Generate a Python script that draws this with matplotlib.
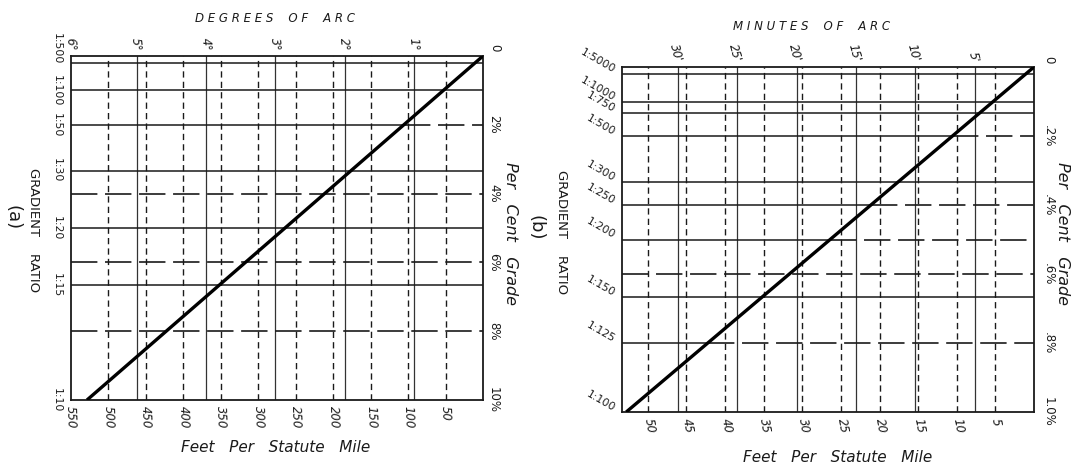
import numpy as np
import matplotlib
matplotlib.use("Agg")
import matplotlib.pyplot as plt

plt.rcParams['font.family'] = ['DejaVu Sans']
plt.rcParams['lines.scale_dashes'] = False

INK = '#1a1a1a'
GRID = '#333333'
W, H = 1078, 470
PT = 0.72  # points per pixel at 100 dpi

# Panel (a): grades up to 10 %, degrees of arc
a_ft_labels = ['550', '500', '450', '400', '350', '300', '250', '200', '150', '100', '50']
a_ft_values = [550, 500, 450, 400, 350, 300, 250, 200, 150, 100, 50]
a_arc_labels = ['6°', '5°', '4°', '3°', '2°', '1°']
a_arc_ft = [550, 462, 369, 277, 184, 92]
a_ratio_labels = ['1:500', '1:100', '1:50', '1:30', '1:20', '1:15', '1:10']
a_ratio_grade = [0.2, 1.0, 2.0, 3.33, 5.0, 6.67, 10.0]
a_pct_labels = ['0', '2%', '4%', '6%', '8%', '10%']
a_pct_grade = [0, 2, 4, 6, 8, 10]
a_pct_dashed = [2, 4, 6, 8]
a_line_ft = [0, 528]
a_line_grade = [0, 10]

# Panel (b): grades up to 1 %, minutes of arc
b_ft_labels = ['50', '45', '40', '35', '30', '25', '20', '15', '10', '5']
b_ft_values = [50, 45, 40, 35, 30, 25, 20, 15, 10, 5]
b_arc_labels = ["30'", "25'", "20'", "15'", "10'", "5'"]
b_arc_ft = [46.1, 38.4, 30.7, 23.0, 15.4, 7.7]
b_ratio_labels = ['1:5000', '1:1000', '1:750', '1:500', '1:300', '1:250',
                  '1:200', '1:150', '1:125', '1:100']
b_ratio_grade = [0.02, 0.1, 0.133, 0.2, 0.333, 0.4, 0.5, 0.667, 0.8, 1.0]
b_pct_labels = ['0', '.2%', '.4%', '.6%', '.8%', '1.0%']
b_pct_grade = [0, 0.2, 0.4, 0.6, 0.8, 1.0]
b_pct_dashed = [0.2, 0.4, 0.5, 0.6, 0.8]
b_line_ft = [0, 52.8]
b_line_grade = [0, 1.0]

fig = plt.figure(figsize=(W / 100, H / 100), dpi=100)
fig.patch.set_facecolor('white')


def px_rect(left, top, right, bottom):
    return [left / W, 1 - bottom / H, (right - left) / W, (bottom - top) / H]


def ftext(x, y, s, **kw):
    kw.setdefault('color', INK)
    fig.text(x / W, 1 - y / H, s, **kw)


def draw_panel(rect, ft_max, grade_max, ft_values, arc_ft, ratio_grade,
               pct_dashed, line_ft, line_grade):
    ax = fig.add_axes(rect)
    ax.set_xlim(ft_max, 0)
    ax.set_ylim(grade_max, 0)
    ax.set_xticks([])
    ax.set_yticks([])
    for s in ax.spines.values():
        s.set_linewidth(1.3)
        s.set_color(INK)

    def cross(g):
        return float(np.interp(g, line_grade, line_ft))

    def shared(g, others):
        return any(np.isclose(g, o) for o in others)

    # solid verticals: angle of arc
    for x in arc_ft:
        if x < ft_max:
            ax.axvline(x, color=GRID, lw=0.9)
    # dashed verticals: feet per mile
    for x in ft_values:
        if x < ft_max:
            ax.axvline(x, color=INK, lw=1.0, dashes=(4.5, 3.0))
    # solid horizontals: gradient ratio (stop at the diagonal where a
    # per-cent line continues on the same level)
    for g in ratio_grade:
        if g >= grade_max:
            continue
        x_end = cross(g) if shared(g, pct_dashed) else 0
        ax.plot([ft_max, x_end], [g, g], color=INK, lw=1.1,
                solid_capstyle='butt')
    # dashed horizontals: per cent grade
    for p in pct_dashed:
        x_start = cross(p) if shared(p, ratio_grade) else ft_max
        ax.plot([x_start, 0], [p, p], color=INK, lw=1.2, dashes=(19, 5.5))
    # the conversion line
    ax.plot(line_ft, line_grade, color='black', lw=2.4,
            solid_capstyle='butt', zorder=5)
    ax.set_xlim(ft_max, 0)
    ax.set_ylim(grade_max, 0)
    return ax


def label_panel(ax, ft_labels, ft_values, ft_rot, arc_labels, arc_ft, arc_rot,
                ratio_labels, ratio_grade, ratio_rot, ratio_off,
                pct_labels, pct_grade, pct_off, zero_off, ft_max, grade_max):
    tick_kw = dict(fontsize=8.5, color=INK, rotation_mode='anchor',
                   annotation_clip=False, textcoords='offset points')
    for lab, v in zip(ft_labels, ft_values):
        ax.annotate(lab, xy=(v, 0), xycoords=('data', 'axes fraction'),
                    xytext=(0, -6 * PT), rotation=ft_rot, ha='left',
                    va='center', style='italic', **tick_kw)
    for lab, v in zip(arc_labels, arc_ft):
        ax.annotate(lab, xy=(min(v, ft_max), 1),
                    xycoords=('data', 'axes fraction'),
                    xytext=(0, 5 * PT), rotation=arc_rot, ha='right',
                    va='center', style='italic', **tick_kw)
    ratio_kw = dict(tick_kw, fontsize=7.8)
    for lab, g in zip(ratio_labels, ratio_grade):
        if ratio_rot == -90:
            # the label nearest the top edge sits above its line
            near_top = g < 0.05 * grade_max
            ax.annotate(lab, xy=(0, g), xycoords=('axes fraction', 'data'),
                        xytext=(-ratio_off * PT, -1 * PT if near_top else 0),
                        rotation=-90, ha='right' if near_top else 'center',
                        va='top', **ratio_kw)
        else:
            ax.annotate(lab, xy=(0, g), xycoords=('axes fraction', 'data'),
                        xytext=(-ratio_off * PT, 3 * PT), rotation=ratio_rot,
                        ha='right', va='center', **ratio_kw)
    for lab, g in zip(pct_labels, pct_grade):
        dx, dy = (zero_off if g == 0 else (pct_off, 0))
        ax.annotate(lab, xy=(1, g), xycoords=('axes fraction', 'data'),
                    xytext=(dx * PT, dy * PT), rotation=-90,
                    ha='center', va='bottom', **tick_kw)


# ---------------- panel (a) ----------------
ax_a = draw_panel(px_rect(70.5, 56, 483, 400), 550, 10, a_ft_values, a_arc_ft,
                  a_ratio_grade, a_pct_dashed, a_line_ft, a_line_grade)
label_panel(ax_a, a_ft_labels, a_ft_values, -88, a_arc_labels, a_arc_ft, -85,
            a_ratio_labels, a_ratio_grade, -90, 9,
            a_pct_labels, a_pct_grade, 4, (5, 8), 550, 10)

# ---------------- panel (b) ----------------
ax_b = draw_panel(px_rect(621.6, 67, 1034, 412), 53.4, 1.0, b_ft_values,
                  b_arc_ft, b_ratio_grade, b_pct_dashed, b_line_ft,
                  b_line_grade)
label_panel(ax_b, b_ft_labels, b_ft_values, -80, b_arc_labels, b_arc_ft, -75,
            b_ratio_labels, b_ratio_grade, -30, 7,
            b_pct_labels, b_pct_grade, 8, (8, 7), 53.4, 1.0)

# ---------------- titles ----------------
title_kw = dict(ha='center', va='center', style='italic')
ftext(275, 19, 'D E G R E E S    O F    A R C', fontsize=8.5, **title_kw)
ftext(812, 26, 'M I N U T E S    O F    A R C', fontsize=8.5, **title_kw)
ftext(276, 448, 'Feet   Per   Statute   Mile', fontsize=11, **title_kw)
ftext(838, 458, 'Feet   Per   Statute   Mile', fontsize=11, **title_kw)

side_kw = dict(ha='center', va='center', rotation=-90)
ftext(33, 230, 'GRADIENT    RATIO', fontsize=9.5, **side_kw)
ftext(561, 232, 'GRADIENT    RATIO', fontsize=9.5, **side_kw)
ftext(510, 233, 'Per   Cent   Grade', fontsize=11.5, style='italic', **side_kw)
ftext(1063, 233, 'Per   Cent   Grade', fontsize=11.5, style='italic', **side_kw)
ftext(12, 218, '(a)', fontsize=13, **side_kw)
ftext(535, 228, '(b)', fontsize=13, **side_kw)

fig.savefig('out.png', dpi=100, facecolor='white')
